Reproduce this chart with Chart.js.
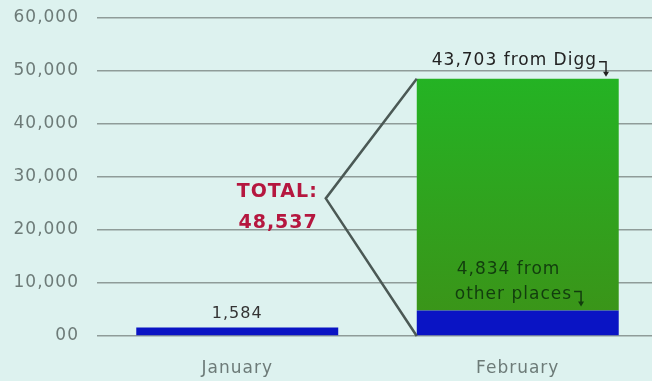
<!DOCTYPE html>
<html>
<head>
<meta charset="utf-8">
<script src="https://cdn.jsdelivr.net/npm/chart.js@4/dist/chart.umd.min.js"></script>
<style>
  html, body { margin:0; padding:0; overflow:hidden; background:#ddf2ef; }
  #wrap { width:658px; height:381px; }
</style>
</head>
<body>
<div id="wrap"><canvas id="c" width="658" height="381"></canvas></div>
<script>
const categories = ['January', 'February'];
const otherValues = [1584, 4834];
const diggValues = [null, 43703];
const yMin = 0, yMax = 60000, yStep = 10000;
const diggLabel = ' from Digg';
const otherLabel = [' from', 'other places'];
const totalLabel = 'TOTAL:';

const fmt = v => v.toLocaleString('en-US');
const FONT = '"DejaVu Sans", Verdana, sans-serif';

function setSpacing(chart){ chart.ctx.letterSpacing = '1px'; }

function hook(ctx, x, y, w, h, color){
  ctx.save();
  ctx.strokeStyle = color; ctx.fillStyle = color; ctx.lineWidth = 1.5;
  ctx.beginPath(); ctx.moveTo(x, y); ctx.lineTo(x + w, y); ctx.lineTo(x + w, y + h - 3); ctx.stroke();
  ctx.beginPath(); ctx.moveTo(x + w - 3, y + h - 4); ctx.lineTo(x + w + 3, y + h - 4); ctx.lineTo(x + w, y + h + 1); ctx.closePath(); ctx.fill();
  ctx.restore();
}

const annot = {
  id: 'annot',
  beforeUpdate: setSpacing,
  beforeLayout: setSpacing,
  beforeDraw: setSpacing,
  afterDatasetsDraw(chart){
    const ctx = chart.ctx;
    const ys = chart.scales.y;
    const m0 = chart.getDatasetMeta(0), m1 = chart.getDatasetMeta(1);
    const jan = m0.data[0], febBlue = m0.data[1], febGreen = m1.data[1];
    const left = febGreen.x - febGreen.width / 2;
    const total = otherValues[1] + diggValues[1];
    ctx.save();
    ctx.letterSpacing = '1px';
    // bracket polyline
    ctx.strokeStyle = '#4b5955'; ctx.lineWidth = 2.5; ctx.lineJoin = 'miter';
    ctx.beginPath();
    ctx.moveTo(left, ys.getPixelForValue(total));
    ctx.lineTo(left - 91, ys.getPixelForValue(total * 0.535));
    ctx.lineTo(left, ys.getPixelForValue(0));
    ctx.stroke();
    // total text
    ctx.fillStyle = '#b5173f';
    ctx.font = 'bold 19px ' + FONT;
    ctx.textAlign = 'right'; ctx.textBaseline = 'alphabetic';
    ctx.fillText(totalLabel, left - 99, 197);
    ctx.fillText(fmt(total), left - 99, 228);
    // January label
    ctx.font = '16px ' + FONT;
    ctx.fillStyle = '#333';
    ctx.textAlign = 'center';
    ctx.fillText(fmt(otherValues[0]), jan.x, jan.y - 10);
    // Digg label
    ctx.font = '17px ' + FONT;
    ctx.fillStyle = '#222';
    ctx.textAlign = 'left';
    const dt = fmt(diggValues[1]) + diggLabel;
    ctx.fillText(dt, left + 15, febGreen.y - 14);
    const dw = ctx.measureText(dt).width;
    hook(ctx, left + 15 + dw + 2, febGreen.y - 17, 7, 14, '#222');
    // other label
    ctx.fillStyle = '#123d0e';
    ctx.fillText(fmt(otherValues[1]) + otherLabel[0], left + 40, febBlue.y - 36);
    ctx.fillText(otherLabel[1], left + 38, febBlue.y - 11);
    const ow = ctx.measureText(otherLabel[1]).width;
    hook(ctx, left + 38 + ow + 2, febBlue.y - 19, 7, 14, '#123d0e');
    ctx.restore();
  }
};

function blueGrad(context){
  const el = context.element;
  const chart = context.chart;
  if (!chart.chartArea || !el) return '#0a14c4';
  const ctx = chart.ctx;
  const top = el.y, bot = el.base;
  if (!isFinite(top) || !isFinite(bot) || top === bot) return '#0a14c4';
  const g = ctx.createLinearGradient(0, top, 0, bot);
  g.addColorStop(0, '#4a78ec');
  g.addColorStop(0.18, '#1a34dc');
  g.addColorStop(1, '#0710c4');
  return g;
}
function greenGrad(context){
  const chart = context.chart;
  const ca = chart.chartArea;
  if (!ca) return '#2aa52a';
  const g = chart.ctx.createLinearGradient(0, ca.top + 60, 0, ca.bottom - 25);
  g.addColorStop(0, '#24b324');
  g.addColorStop(1, '#3a9519');
  return g;
}

new Chart(document.getElementById('c'), {
  type: 'bar',
  data: {
    labels: categories,
    datasets: [
      { label: 'other', data: otherValues, backgroundColor: blueGrad, barPercentage: 0.8, categoryPercentage: 0.9 },
      { label: 'digg', data: diggValues, backgroundColor: greenGrad, barPercentage: 0.8, categoryPercentage: 0.9 }
    ]
  },
  options: {
    responsive: false,
    animation: false,
    layout: { padding: { top: 18, right: 0, left: 0, bottom: 0 } },
    plugins: { legend: { display: false }, tooltip: { enabled: false } },
    scales: {
      x: {
        stacked: true,
        grid: { display: false, drawTicks: false },
        border: { display: false },
        ticks: { color: '#6d7b78', font: { family: FONT, size: 17 }, padding: 22 },
        afterFit(s){ s.height = 45; s.paddingLeft = 0; s.paddingRight = 0; }
      },
      y: {
        stacked: true,
        min: yMin, max: yMax,
        grid: { color: '#8f9c99', lineWidth: 1.5, drawTicks: false },
        border: { display: false },
        ticks: {
          stepSize: yStep,
          color: '#6d7b78',
          font: { family: FONT, size: 17 },
          padding: 18,
          callback: v => v === 0 ? '00' : fmt(v)
        },
        afterFit(s){ s.width = 97; s.paddingTop = 0; s.paddingBottom = 0; }
      }
    }
  },
  plugins: [annot]
});
</script>
</body>
</html>
